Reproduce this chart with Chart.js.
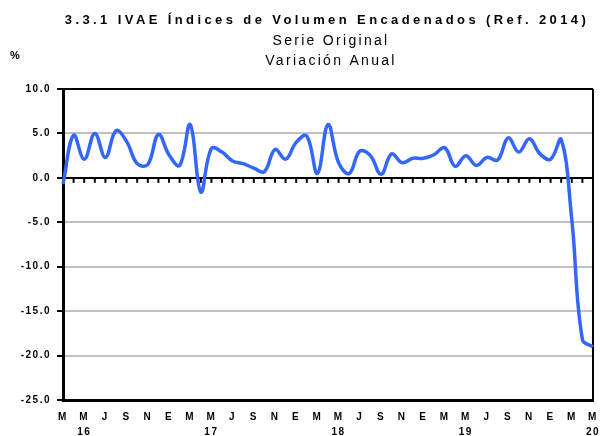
<!DOCTYPE html>
<html>
<head>
<meta charset="utf-8">
<script src="https://cdn.jsdelivr.net/npm/chart.js@4.4.0/dist/chart.umd.min.js"></script>
<style>
  body { margin: 0; background: #fff; }
  #wrap { width: 600px; height: 436px; }
</style>
</head>
<body>
<div id="wrap"><canvas id="ivae-chart" width="600" height="436"></canvas></div>
<script>
// Chart texts
const titleText = '3.3.1 IVAE Índices de Volumen Encadenados (Ref. 2014)';
const subtitleLines = ['Serie Original', 'Variación Anual'];
const unitText = '%';

// Months, March 2016 to May 2020
const months = [
  'mar16','abr16','may16','jun16','jul16','ago16','sep16','oct16','nov16','dic16',
  'ene17','feb17','mar17','abr17','may17','jun17','jul17','ago17','sep17','oct17','nov17','dic17',
  'ene18','feb18','mar18','abr18','may18','jun18','jul18','ago18','sep18','oct18','nov18','dic18',
  'ene19','feb19','mar19','abr19','may19','jun19','jul19','ago19','sep19','oct19','nov19','dic19',
  'ene20','feb20','mar20','abr20','may20'
];

// Annual variation (%)
const annualVariation = [
  -0.7, 4.8, 2.1, 5.0, 2.3, 5.3, 4.1, 1.6, 1.5, 4.9,
  2.6, 1.4, 6.0, -1.6, 3.3, 2.9, 1.9, 1.6, 1.1, 0.7, 3.2, 2.1,
  4.0, 4.7, 0.5, 6.0, 1.7, 0.5, 3.0, 2.5, 0.4, 2.7, 1.7, 2.2,
  2.2, 2.6, 3.4, 1.3, 2.5, 1.4, 2.3, 2.0, 4.5, 2.9, 4.4, 2.7,
  2.1, 4.3, -4.7, -18.2, -19.0
];

// Labels shown every second month (year under May)
const tickLabels = [
  'M', ['M','16'], 'J', 'S', 'N', 'E',
  'M', ['M','17'], 'J', 'S', 'N', 'E',
  'M', ['M','18'], 'J', 'S', 'N', 'E',
  'M', ['M','19'], 'J', 'S', 'N', 'E',
  'M', ['M','20']
];

const yMin = -25, yMax = 10, yStep = 5;
const fontFamily = '"Liberation Sans", Arial, sans-serif';

// Extra drawing: letter spacing, zero line ticks, frame and titles
const extras = {
  id: 'extras',
  beforeDraw(chart) {
    chart.ctx.letterSpacing = '1.5px';
  },
  beforeDatasetsDraw(chart) {
    const ctx = chart.ctx;
    const x = chart.scales.x;
    const y = chart.scales.y;
    const area = chart.chartArea;
    const y0 = y.getPixelForValue(0);
    ctx.save();
    ctx.strokeStyle = '#000';
    ctx.lineWidth = 2;
    for (let i = 1; i < months.length; i++) {
      const px = x.getPixelForValue(i);
      ctx.beginPath();
      ctx.moveTo(px, y0);
      ctx.lineTo(px, y0 + 5);
      ctx.stroke();
    }
    // right border of the plot
    ctx.beginPath();
    ctx.moveTo(area.right, area.top);
    ctx.lineTo(area.right, area.bottom);
    ctx.stroke();
    ctx.restore();
  },
  afterDraw(chart) {
    const ctx = chart.ctx;
    ctx.save();
    ctx.fillStyle = '#000';
    ctx.textAlign = 'center';
    ctx.textBaseline = 'middle';
    ctx.letterSpacing = '3.4px';
    ctx.font = 'bold 13px ' + fontFamily;
    ctx.fillText(titleText, 327, 20);
    ctx.letterSpacing = '2.3px';
    ctx.font = '14px ' + fontFamily;
    ctx.fillText(subtitleLines[0], 331, 41);
    ctx.fillText(subtitleLines[1], 331, 61);
    ctx.letterSpacing = '0px';
    ctx.textAlign = 'left';
    ctx.font = 'bold 11px ' + fontFamily;
    ctx.fillText(unitText, 10, 56);
    ctx.restore();
    ctx.letterSpacing = '0px';
  }
};

new Chart('ivae-chart', {
  type: 'line',
  data: {
    labels: months,
    datasets: [{
      data: annualVariation,
      borderColor: '#3366ff',
      borderWidth: 3.5,
      pointRadius: 0,
      tension: 0.4,
      fill: false
    }]
  },
  options: {
    responsive: false,
    animation: false,
    layout: { padding: { top: 89, left: 5, right: 7, bottom: 0 } },
    plugins: {
      legend: { display: false },
      tooltip: { enabled: false }
    },
    scales: {
      x: {
        offset: false,
        grid: { display: false, drawTicks: false },
        border: { display: true, color: '#000', width: 3 },
        ticks: {
          autoSkip: false,
          maxRotation: 0,
          padding: 10,
          color: '#000',
          font: { family: fontFamily, size: 10, weight: 'bold', lineHeight: 1.5 },
          callback: (val, idx) => idx % 2 === 0 ? tickLabels[idx / 2] : null
        },
        afterFit: s => { s.height = 36; s.paddingLeft = 0; s.paddingRight = 0; }
      },
      y: {
        min: yMin,
        max: yMax,
        ticks: {
          stepSize: yStep,
          padding: 6,
          color: '#000',
          font: { family: fontFamily, size: 10, weight: 'bold' },
          callback: v => v.toFixed(1)
        },
        grid: {
          color: c => (c.tick.value === 0 || c.tick.value === yMax || c.tick.value === yMin) ? '#000' : '#c0c0c0',
          lineWidth: 2,
          tickColor: '#000',
          tickLength: 6,
          tickWidth: 2
        },
        border: { display: true, color: '#000', width: 3 },
        afterFit: s => { s.width = 58; }
      }
    }
  },
  plugins: [extras]
});
</script>
</body>
</html>
